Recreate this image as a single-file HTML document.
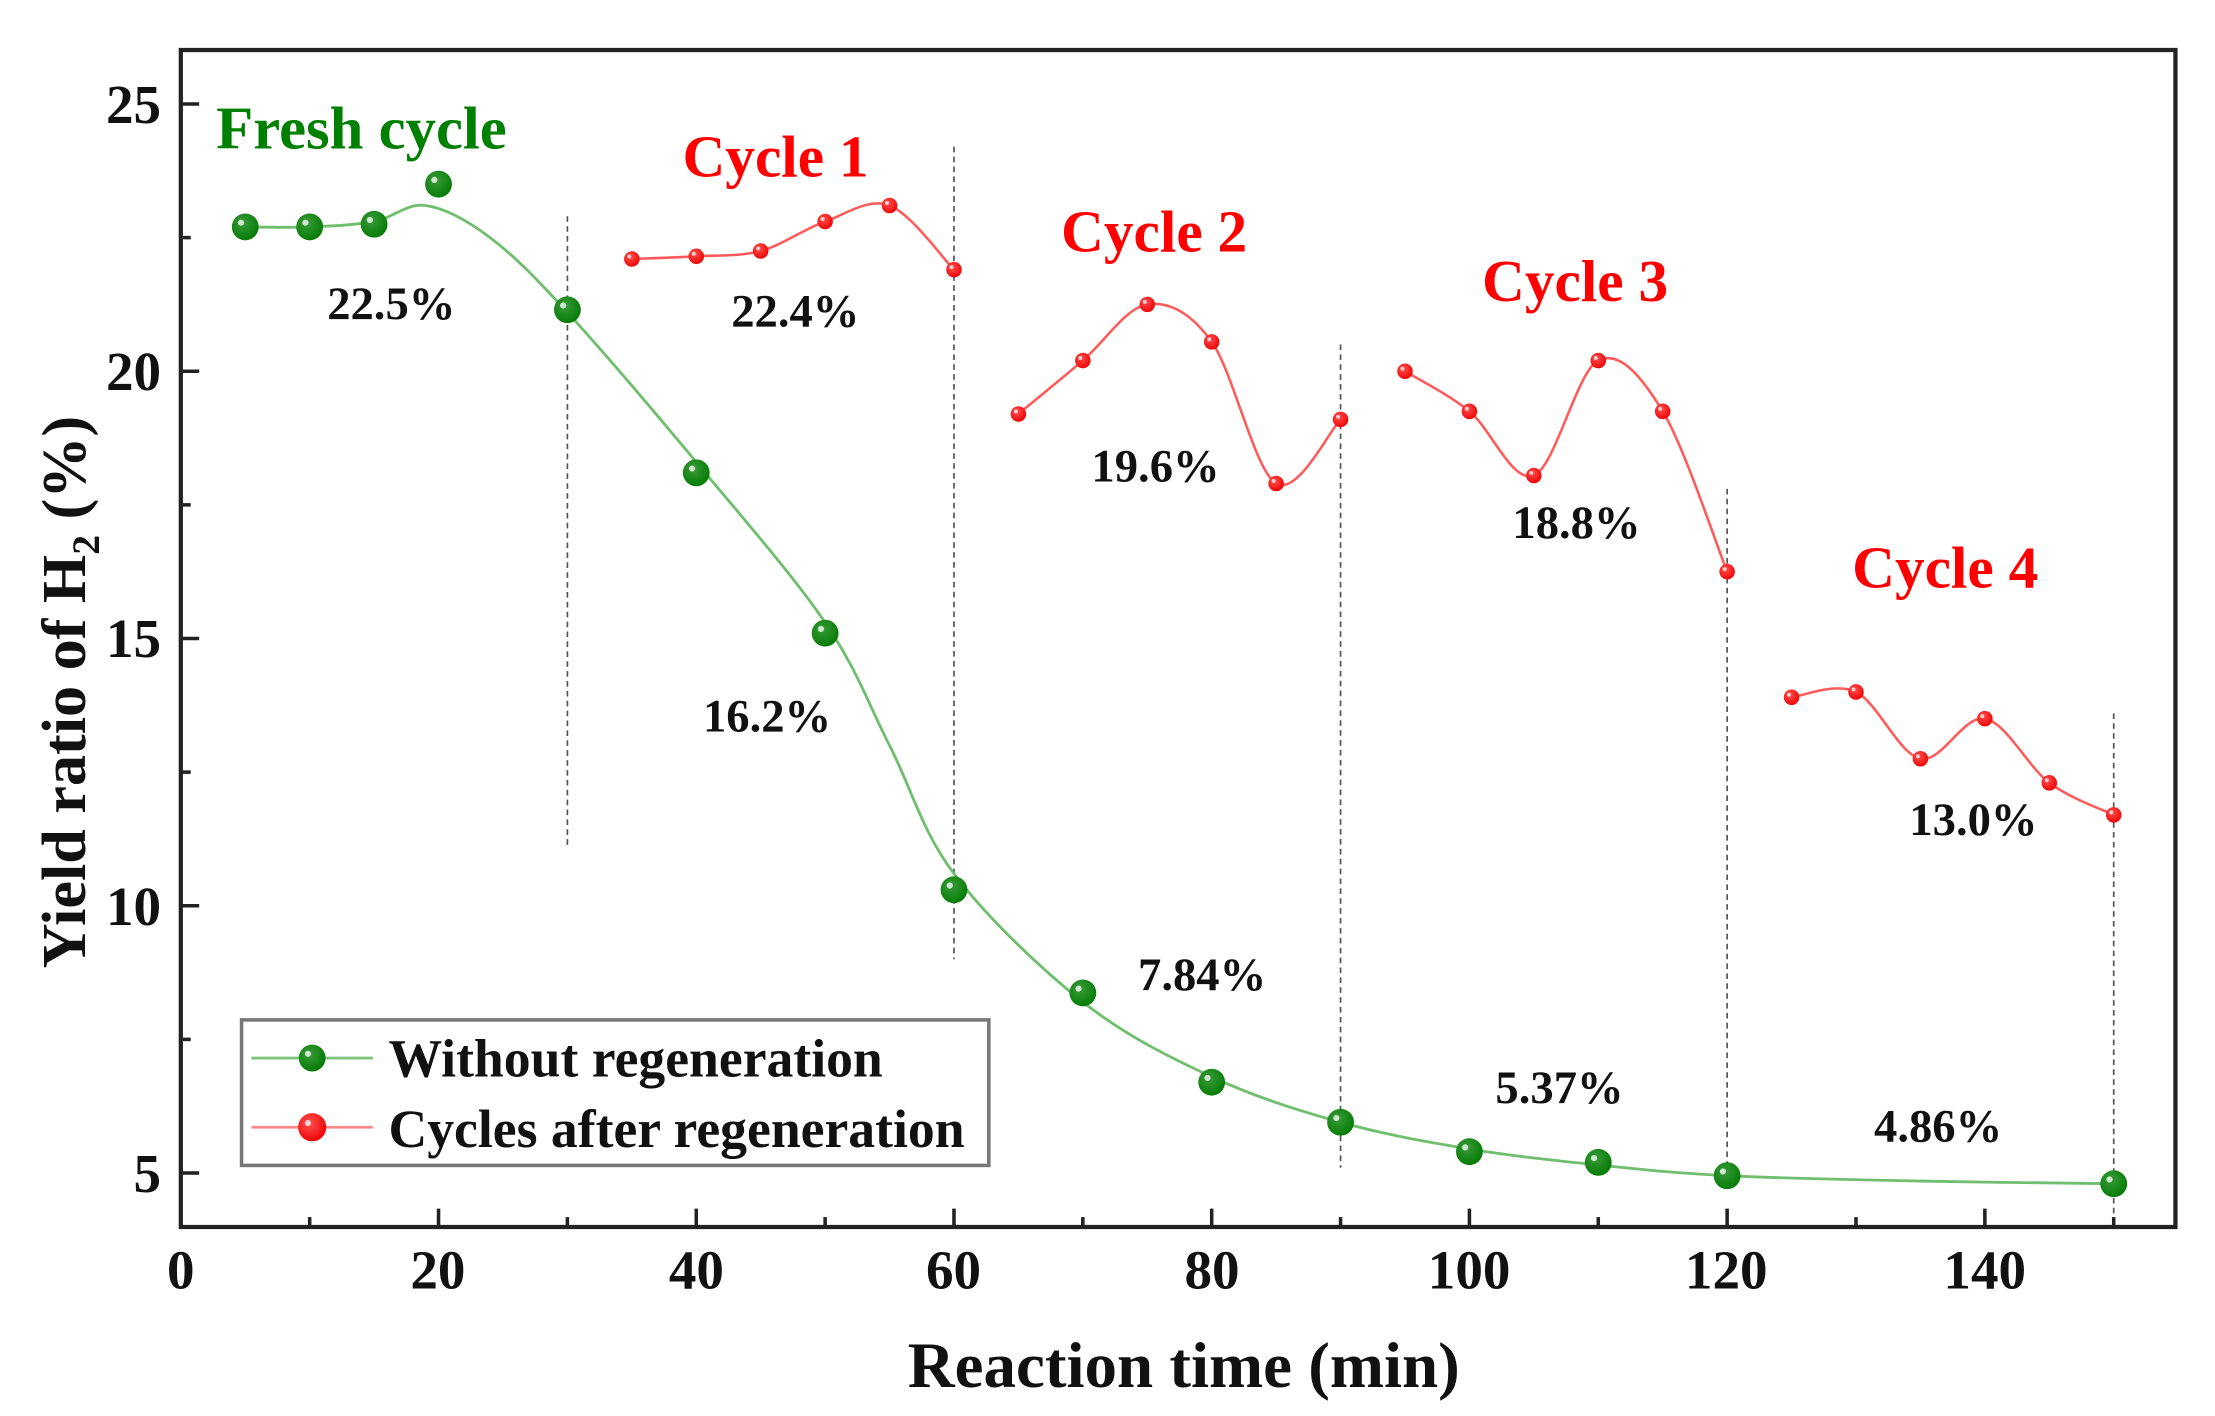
<!DOCTYPE html>
<html><head><meta charset="utf-8"><style>
html,body{margin:0;padding:0;background:#fff;}
svg{display:block;}
text{font-family:"Liberation Serif",serif;font-weight:bold;}
</style></head><body>
<svg id="s" width="2215" height="1416" viewBox="0 0 1568 1002.4" preserveAspectRatio="none" xmlns="http://www.w3.org/2000/svg">
<defs>
<radialGradient id="gg" cx="0.4" cy="0.35" r="0.7"><stop offset="0" stop-color="#3a9a3a"/><stop offset="1" stop-color="#007a00"/></radialGradient>
<radialGradient id="rg" cx="0.4" cy="0.35" r="0.7"><stop offset="0" stop-color="#ff5050"/><stop offset="1" stop-color="#ee0000"/></radialGradient>
</defs>
<g id="dash" stroke="#555" stroke-width="1.2" stroke-dasharray="4,3"></g>
<g id="curves" fill="none"></g>
<g id="marks"></g>
<rect x="128" y="35.4" width="1412" height="833.2" fill="none" stroke="#222" stroke-width="3"/>
<g id="ticks" stroke="#222" stroke-width="2.5"></g>
<g font-size="39" fill="#111" text-anchor="end">
<text x="114" y="87">25</text><text x="114" y="276">20</text><text x="114" y="465">15</text><text x="114" y="655">10</text><text x="114" y="844">5</text>
</g>
<g font-size="39" fill="#111" text-anchor="middle">
<text x="128" y="912">0</text><text x="310" y="912">20</text><text x="493" y="912">40</text><text x="675" y="912">60</text><text x="858" y="912">80</text><text x="1040" y="912">100</text><text x="1222" y="912">120</text><text x="1405" y="912">140</text>
</g>
<text x="838" y="982" font-size="46" text-anchor="middle" fill="#111">Reaction time (min)</text>
<text transform="translate(60,490) rotate(-90)" font-size="44" text-anchor="middle" fill="#111">Yield ratio of H<tspan font-size="28" dy="10">2</tspan><tspan dy="-10"> (%)</tspan></text>
<g font-size="43" fill="#008000"><text x="153" y="105">Fresh cycle</text></g>
<g font-size="42" fill="#ff0000" text-anchor="middle">
<text x="549" y="125">Cycle 1</text><text x="817" y="178">Cycle 2</text><text x="1115" y="213">Cycle 3</text><text x="1377" y="416">Cycle 4</text>
</g>
<g font-size="33" fill="#111" text-anchor="middle">
<text x="277" y="226">22.5%</text><text x="563" y="231">22.4%</text><text x="818" y="341">19.6%</text><text x="1116" y="381">18.8%</text><text x="1397" y="591">13.0%</text>
<text x="543" y="518">16.2%</text><text x="851" y="701">7.84%</text><text x="1104" y="781">5.37%</text><text x="1372" y="808">4.86%</text>
</g>
<rect x="171" y="722" width="529" height="103" fill="#fff" stroke="#777" stroke-width="2.5"/>
<line x1="178" y1="749" x2="264" y2="749" stroke="#7cc47c" stroke-width="2"/>
<circle cx="221" cy="749" r="9.5" fill="url(#gg)"/><circle cx="218" cy="746" r="2.2" fill="#cfe8cf"/>
<line x1="178" y1="798" x2="264" y2="798" stroke="#ff8a8a" stroke-width="2"/>
<circle cx="221" cy="798" r="10" fill="url(#rg)"/><circle cx="218" cy="795" r="2.2" fill="#ffd0d0"/>
<text x="275" y="762" font-size="38" fill="#111">Without regeneration</text>
<text x="275" y="812" font-size="38" fill="#111">Cycles after regeneration</text>
</svg>
<script>
var NS="http://www.w3.org/2000/svg";
function X(t){return 128+t*9.122;}
function Y(v){return 73.6+(25-v)*37.84;}
function el(n,a,p){var e=document.createElementNS(NS,n);for(var k in a)e.setAttribute(k,a[k]);p.appendChild(e);return e;}
var green=[[5,22.7],[10,22.7],[15,22.75],[20,23.5],[30,21.15],[40,18.1],[50,15.1],[60,10.3],[70,8.37],[80,6.7],[90,5.95],[100,5.4],[110,5.2],[120,4.95],[150,4.8]];
var gfit=[[5,22.7],[10,22.7],[15,22.8],[19,23.1],[24,22.5],[30,21.1],[40,18.3],[50,15.3],[55,13.0],[60,10.6],[70,8.2],[80,6.8],[90,5.95],[100,5.45],[110,5.15],[120,4.95],[135,4.85],[150,4.8]];
var reds=[
[[35,22.1],[40,22.15],[45,22.25],[50,22.8],[55,23.1],[60,21.9]],
[[65,19.2],[70,20.2],[75,21.25],[80,20.55],[85,17.9],[90,19.1]],
[[95,20.0],[100,19.25],[105,18.05],[110,20.2],[115,19.25],[120,16.25]],
[[125,13.9],[130,14.0],[135,12.75],[140,13.5],[145,12.3],[150,11.7]]];
function path(pts){
 var p=pts.map(function(a){return [X(a[0]),Y(a[1])];});
 var d="M"+p[0][0]+","+p[0][1];
 for(var i=0;i<p.length-1;i++){
  var p0=p[i-1]||p[i],p1=p[i],p2=p[i+1],p3=p[i+2]||p[i+1];
  var c1=[p1[0]+(p2[0]-p0[0])/6,p1[1]+(p2[1]-p0[1])/6];
  var c2=[p2[0]-(p3[0]-p1[0])/6,p2[1]-(p3[1]-p1[1])/6];
  d+=" C"+c1+" "+c2+" "+p2;
 }
 return d;
}
var cg=document.getElementById("curves"),mg=document.getElementById("marks");
el("path",{d:path(gfit),stroke:"#6fbf6f","stroke-width":2},cg);
reds.forEach(function(r){el("path",{d:path(r),stroke:"#ff5a5a","stroke-width":1.8},cg);});
green.forEach(function(a){el("circle",{cx:X(a[0]),cy:Y(a[1]),r:9.5,fill:"url(#gg)"},mg);el("circle",{cx:X(a[0])-3,cy:Y(a[1])-3,r:2.2,fill:"#cfe8cf"},mg);});
reds.forEach(function(r){r.forEach(function(a){el("circle",{cx:X(a[0]),cy:Y(a[1]),r:5.5,fill:"url(#rg)"},mg);el("circle",{cx:X(a[0])-1.8,cy:Y(a[1])-1.8,r:1.4,fill:"#ffd0d0"},mg);});});
var dg=document.getElementById("dash");
[[30,22.9,11.1],[60,24.2,9.0],[90,20.5,5.1],[120,17.8,5.0],[150,13.6,4.1]].forEach(function(a){el("line",{x1:X(a[0]),x2:X(a[0]),y1:Y(a[1]),y2:Y(a[2])},dg);});
var tg=document.getElementById("ticks");
for(var v=5;v<=25;v+=2.5){var L=(v%5==0)?13:7;el("line",{x1:128,x2:128+L,y1:Y(v),y2:Y(v)},tg);}
for(var t=10;t<=150;t+=10){var L=(t%20==0)?13:7;el("line",{x1:X(t),x2:X(t),y1:868.6,y2:868.6-L},tg);}
</script>
</body></html>
